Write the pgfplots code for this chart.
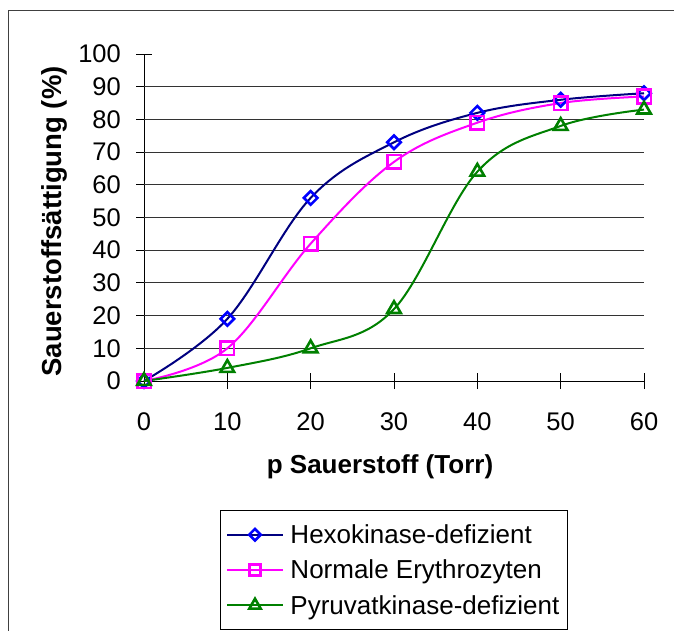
\documentclass[border=0pt]{standalone}
\usepackage{fontspec}
\setmainfont{Liberation Sans}
\usepackage{pgfplots}
\pgfplotsset{compat=1.18}
\definecolor{hexoline}{RGB}{0,0,128}
\definecolor{hexomark}{RGB}{0,0,255}
\definecolor{normalcol}{RGB}{255,0,255}
\definecolor{pyrucol}{RGB}{0,128,0}

\begin{document}
\begin{tikzpicture}
\useasboundingbox (0,0) rectangle (674pt,630pt);
% chart frame
\draw[black!75, line width=1pt] (8pt,-5pt) -- (8pt,619pt) -- (690pt,619pt);
\begin{axis}[
  at={(144pt,249pt)}, anchor=south west,
  scale only axis, width=500pt, height=327pt,
  xmin=0, xmax=60, ymin=0, ymax=100,
  axis lines*=left,
  clip=false,
  xtick={0,10,...,60}, ytick={0,10,...,100},
  tick align=center, major tick length=16pt,
  tick style={black, line width=1pt},
  axis line style={black, line width=1pt},
  /pgf/number format/assume math mode=true,
  every tick label/.append style={font=\fontsize{25.5}{30}\selectfont},
  xticklabel style={inner sep=0pt, anchor=north, yshift=-23pt},
  yticklabel style={inner sep=0pt, anchor=east, xshift=-15pt},
  xlabel={p Sauerstoff (Torr)},
  ylabel={Sauerstoffsättigung (\%)},
  xlabel style={at={(axis description cs:0.472,-0.263)}, anchor=center,
    font=\fontsize{26}{30}\selectfont\bfseries},
  ylabel style={at={(axis description cs:-0.18,0.488)}, anchor=center,
    font=\fontsize{27.5}{30}\selectfont\bfseries},
  legend style={at={(axis description cs:0.152,-0.3945)}, anchor=north west,
    draw=black, line width=1pt, font=\fontsize{26}{30}\selectfont,
    inner xsep=6pt, inner ysep=12pt, row sep=11pt,
    cells={anchor=west}},
  legend image code/.code={\draw[mark repeat=2, mark phase=2, #1,
      line width=2pt, mark size=0.85*\pgfplotmarksize]
    plot coordinates {(0pt,0pt) (27.5pt,0pt) (55pt,0pt)};
    \path (60pt,0pt);},
]
% horizontal grid lines (none at 100)
\pgfplotsinvokeforeach{10,20,...,90}{
  \draw[black!80, line width=1pt] (axis cs:0,#1) -- (axis cs:60,#1);
}
\addplot[hexoline, line width=2pt, smooth, tension=0.6,
  mark=square, mark size=4.8pt,
  mark options={draw=hexomark, solid, rotate=45, line width=2.6pt}]
  coordinates {(0,0) (10,19) (20,56) (30,73) (40,82) (50,86) (60,88)};
\addlegendentry{Hexokinase-defizient}
\addplot[normalcol, line width=2pt, smooth, tension=0.6,
  mark=square, mark size=6.8pt,
  mark options={solid, line width=2.6pt}]
  coordinates {(0,0) (10,10) (20,42) (30,67) (40,79) (50,85) (60,87)};
\addlegendentry{Normale Erythrozyten}
\addplot[pyrucol, line width=2pt, smooth, tension=0.6,
  mark=triangle, mark size=7.8pt,
  mark options={solid, line width=2.6pt}]
  coordinates {(0,0) (10,4) (20,10) (30,22) (40,64) (50,78) (60,83)};
\addlegendentry{Pyruvatkinase-defizient}
\end{axis}
\end{tikzpicture}
\end{document}
